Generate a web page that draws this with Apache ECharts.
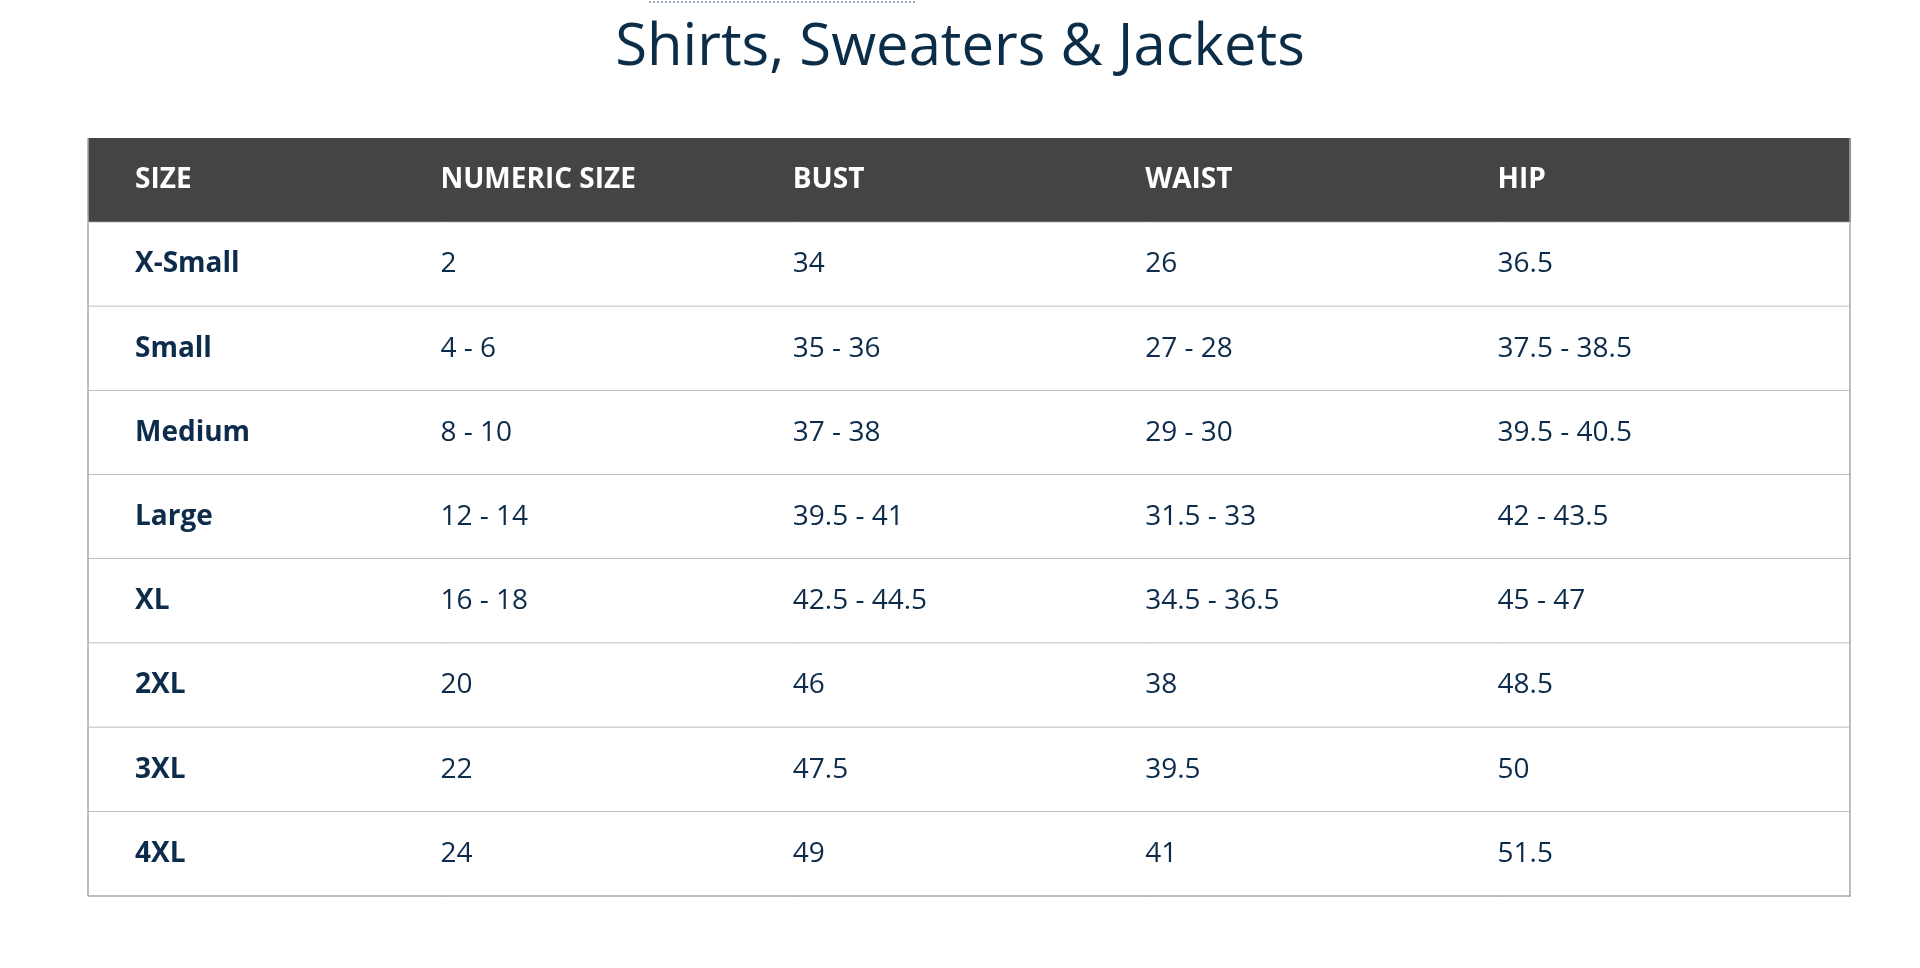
<!DOCTYPE html>
<html>
<head>
<meta charset="utf-8">
<script src="https://cdn.jsdelivr.net/npm/echarts@6/dist/echarts.min.js"></script>
<style>
  html, body { margin: 0; padding: 0; background: #fff; }
  #main { width: 1920px; height: 968px; }
</style>
</head>
<body>
<div id="main"></div>
<script>
var headers = ['SIZE', 'NUMERIC SIZE', 'BUST', 'WAIST', 'HIP'];
var sizes = ['X-Small', 'Small', 'Medium', 'Large', 'XL', '2XL', '3XL', '4XL'];
var numeric = ['2', '4 - 6', '8 - 10', '12 - 14', '16 - 18', '20', '22', '24'];
var bust = ['34', '35 - 36', '37 - 38', '39.5 - 41', '42.5 - 44.5', '46', '47.5', '49'];
var waist = ['26', '27 - 28', '29 - 30', '31.5 - 33', '34.5 - 36.5', '38', '39.5', '41'];
var hip = ['36.5', '37.5 - 38.5', '39.5 - 40.5', '42 - 43.5', '45 - 47', '48.5', '50', '51.5'];

var columns = [sizes, numeric, bust, waist, hip];
var cells = [];
headers.forEach(function (h, c) { cells.push([c, 0, h]); });
columns.forEach(function (col, c) {
    col.forEach(function (v, r) { cells.push([c, r + 1, v]); });
});

var myChart = echarts.init(document.getElementById('main'));

function renderCell(params, api) {
    var c = api.value(0), r = api.value(1);
    var center = api.coord([c, r]);
    var size = api.size([1, 1]);
    var x0 = center[0] - size[0] / 2, y0 = center[1] - size[1] / 2;
    var isHead = r === 0;
    var children = [{
        type: 'rect',
        shape: { x: x0, y: y0, width: size[0] + 1, height: size[1] },
        style: { fill: isHead ? '#444444' : '#ffffff' }
    }, {
        type: 'line',
        shape: { x1: x0, y1: y0 + size[1], x2: x0 + size[0] + 1, y2: y0 + size[1] },
        style: { stroke: isHead ? '#8a8a8a' : '#a8a8a8', lineWidth: 1.5 }
    }];
    if (c === 0) children.push({ type: 'line', shape: { x1: x0, y1: y0, x2: x0, y2: y0 + size[1] }, style: { stroke: '#a8a8a8', lineWidth: 1.5 } });
    if (c === 4) children.push({ type: 'line', shape: { x1: x0 + size[0], y1: y0, x2: x0 + size[0], y2: y0 + size[1] }, style: { stroke: '#a8a8a8', lineWidth: 1.5 } });
    children.push({
        type: 'text',
        style: {
            x: x0 + (c === 0 ? 47 : 0),
            y: center[1],
            text: api.value(2),
            fill: isHead ? '#ffffff' : '#0d2b4a',
            font: (isHead || c === 0 ? '700 ' : '500 ') + '28px "Open Sans", sans-serif',
            verticalAlign: 'middle',
            align: 'left'
        }
    });
    return { type: 'group', children: children };
}

var option = {
    animation: false,
    title: {
        text: 'Shirts, Sweaters & Jackets',
        left: 'center',
        top: 14,
        textStyle: { color: '#0c2d48', fontSize: 58, fontWeight: 'normal', fontFamily: '"Open Sans", sans-serif' }
    },
    graphic: [{
        type: 'line',
        shape: { x1: 649, y1: 2, x2: 916, y2: 2 },
        style: { stroke: '#9aaabb', lineWidth: 2, lineDash: [2, 2] }
    }],
    grid: { left: 88, right: 70, top: 138, bottom: 72 },
    xAxis: { type: 'category', data: headers, show: false },
    yAxis: { type: 'category', data: ['head'].concat(sizes), inverse: true, show: false },
    series: [{
        type: 'custom',
        renderItem: renderCell,
        encode: { x: 0, y: 1 },
        data: cells
    }]
};
myChart.setOption(option);
</script>
</body>
</html>
